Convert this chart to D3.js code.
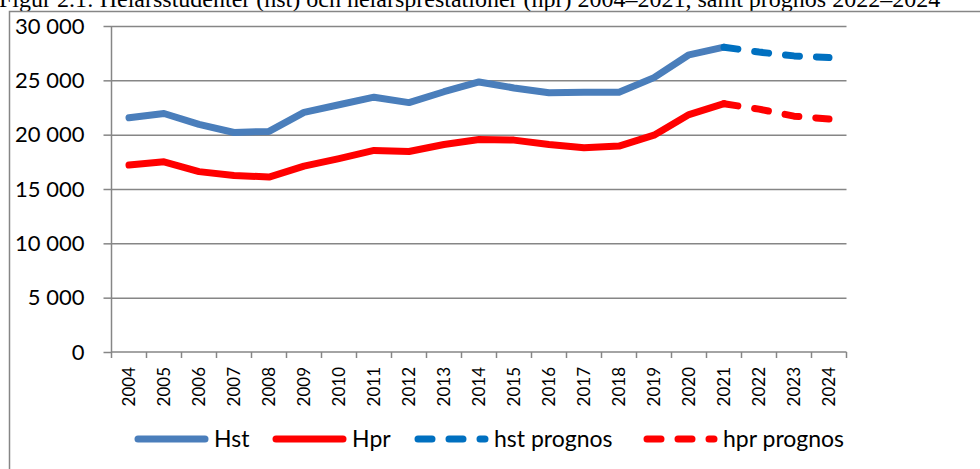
<!DOCTYPE html>
<html>
<head>
<meta charset="utf-8">
<script src="https://cdn.jsdelivr.net/npm/d3@7"></script>
<style>
  body { margin: 0; background: #fff; }
  svg { display: block; }
</style>
</head>
<body>
<div class="container"></div>
<script>
// Data
const years = ["2004","2005","2006","2007","2008","2009","2010","2011","2012","2013","2014","2015","2016","2017","2018","2019","2020","2021","2022","2023","2024"];
const hst = [21550, 21950, 20950, 20200, 20300, 22050, 22750, 23450, 22950, 23950, 24850, 24300, 23850, 23900, 23900, 25250, 27350, 28050, null, null, null];
const hpr = [17200, 17500, 16600, 16250, 16100, 17100, 17800, 18550, 18450, 19100, 19550, 19500, 19100, 18800, 18950, 19950, 21850, 22850, null, null, null];
const hstPrognos = [null, null, null, null, null, null, null, null, null, null, null, null, null, null, null, null, null, 28050, 27600, 27250, 27100];
const hprPrognos = [null, null, null, null, null, null, null, null, null, null, null, null, null, null, null, null, null, 22850, 22350, 21700, 21450];
const yTicks = [0, 5000, 10000, 15000, 20000, 25000, 30000];
const title = "Figur 2.1: Helårsstudenter (hst) och helårsprestationer (hpr) 2004–2021, samt prognos 2022–2024";

const series = [
  {name: "Hst", values: hst, color: "#4A7EBB", dash: null},
  {name: "Hpr", values: hpr, color: "#FF0000", dash: null},
  {name: "hst prognos", values: hstPrognos, color: "#0070C0", dash: "14 17"},
  {name: "hpr prognos", values: hprPrognos, color: "#FF0000", dash: "14 17"}
];

// Dimensions
const w = 980;
const h = 469;
const plotL = 111.5, plotR = 846.5, plotT = 26, plotB = 352;
const font = "Lato, 'Open Sans', sans-serif";
const gridColor = "#868686";

const svg = d3.select(".container")
  .append("svg")
  .attr("width", w)
  .attr("height", h);

// Title (cut off at the top like the original)
svg.append("text")
  .attr("x", -1)
  .attr("y", 7)
  .style("font-family", "'Liberation Serif', 'Times New Roman', serif")
  .style("font-size", "24px")
  .text(title);

// Outer frame
svg.append("rect")
  .attr("x", 9.5).attr("y", 11.5)
  .attr("width", 1000).attr("height", 500)
  .attr("fill", "none")
  .attr("stroke", gridColor)
  .attr("stroke-width", 1.5);

// Scales
const xScale = d3.scaleBand()
  .domain(years)
  .range([plotL, plotR])
  .padding(0);

const yScale = d3.scaleLinear()
  .domain([0, 30000])
  .range([plotB, plotT]);

const locale = d3.formatLocale({decimal: ",", thousands: " ", grouping: [3], currency: ["", " kr"]});
const fmt = locale.format(",d");

// Gridlines
svg.append("g")
  .attr("transform", `translate(${plotL},0)`)
  .call(d3.axisLeft(yScale).tickValues(yTicks.filter(d => d > 0)).tickSize(-(plotR - plotL)).tickFormat(""))
  .call(g => g.select(".domain").remove())
  .call(g => g.selectAll("line").attr("stroke", gridColor).attr("stroke-width", 1.5));

// Y axis
svg.append("g")
  .attr("id", "y-axis")
  .attr("transform", `translate(${plotL},0)`)
  .call(d3.axisLeft(yScale).tickValues(yTicks).tickSize(8).tickPadding(19).tickFormat(fmt))
  .call(g => g.select(".domain").attr("stroke", gridColor).attr("stroke-width", 1.5).attr("d", `M0,${plotB}V${plotT}`))
  .call(g => g.selectAll("line").attr("stroke", gridColor).attr("stroke-width", 1.5))
  .call(g => g.selectAll("text").style("font-family", font).style("font-size", "22px").attr("fill", "#000"));

// X axis: baseline, ticks at category boundaries
const xAxisG = svg.append("g").attr("id", "x-axis");
xAxisG.append("line")
  .attr("x1", plotL).attr("x2", plotR)
  .attr("y1", plotB).attr("y2", plotB)
  .attr("stroke", gridColor).attr("stroke-width", 1.5);
xAxisG.selectAll(".tick-mark")
  .data(years.concat(["end"]))
  .enter()
  .append("line")
  .attr("x1", d => d === "end" ? plotR : xScale(d))
  .attr("x2", d => d === "end" ? plotR : xScale(d))
  .attr("y1", plotB).attr("y2", plotB + 6)
  .attr("stroke", gridColor).attr("stroke-width", 1.5);
xAxisG.selectAll(".year")
  .data(years)
  .enter()
  .append("text")
  .attr("transform", d => `translate(${xScale(d) + xScale.bandwidth() / 2},${plotB + 15}) rotate(-90)`)
  .attr("dy", "0.35em")
  .style("text-anchor", "end")
  .style("font-family", font)
  .style("font-size", "17px")
  .text(d => d);

// Lines
const line = d3.line()
  .defined(d => d[1] !== null)
  .x(d => xScale(d[0]) + xScale.bandwidth() / 2)
  .y(d => yScale(d[1]));

series.forEach(s => {
  svg.append("path")
    .datum(years.map((y, i) => [y, s.values[i]]))
    .attr("d", line)
    .attr("fill", "none")
    .attr("stroke", s.color)
    .attr("stroke-width", 7)
    .attr("stroke-linejoin", "round")
    .attr("stroke-linecap", "round")
    .attr("stroke-dasharray", s.dash);
});

// Legend
const legendX = [138, 276, 418, 647];
const legendY = 439;
const legend = svg.selectAll(".legend")
  .data(series)
  .enter()
  .append("g")
  .attr("transform", (d, i) => `translate(${legendX[i]},${legendY})`);
legend.append("line")
  .attr("x1", 0).attr("x2", 67)
  .attr("y1", 0).attr("y2", 0)
  .attr("stroke", d => d.color)
  .attr("stroke-width", 7)
  .attr("stroke-linecap", "round")
  .attr("stroke-dasharray", d => d.dash);
legend.append("text")
  .attr("x", 76)
  .attr("dy", "0.35em")
  .style("font-family", font)
  .style("font-size", "23px")
  .text(d => d.name);
</script>
</body>
</html>
